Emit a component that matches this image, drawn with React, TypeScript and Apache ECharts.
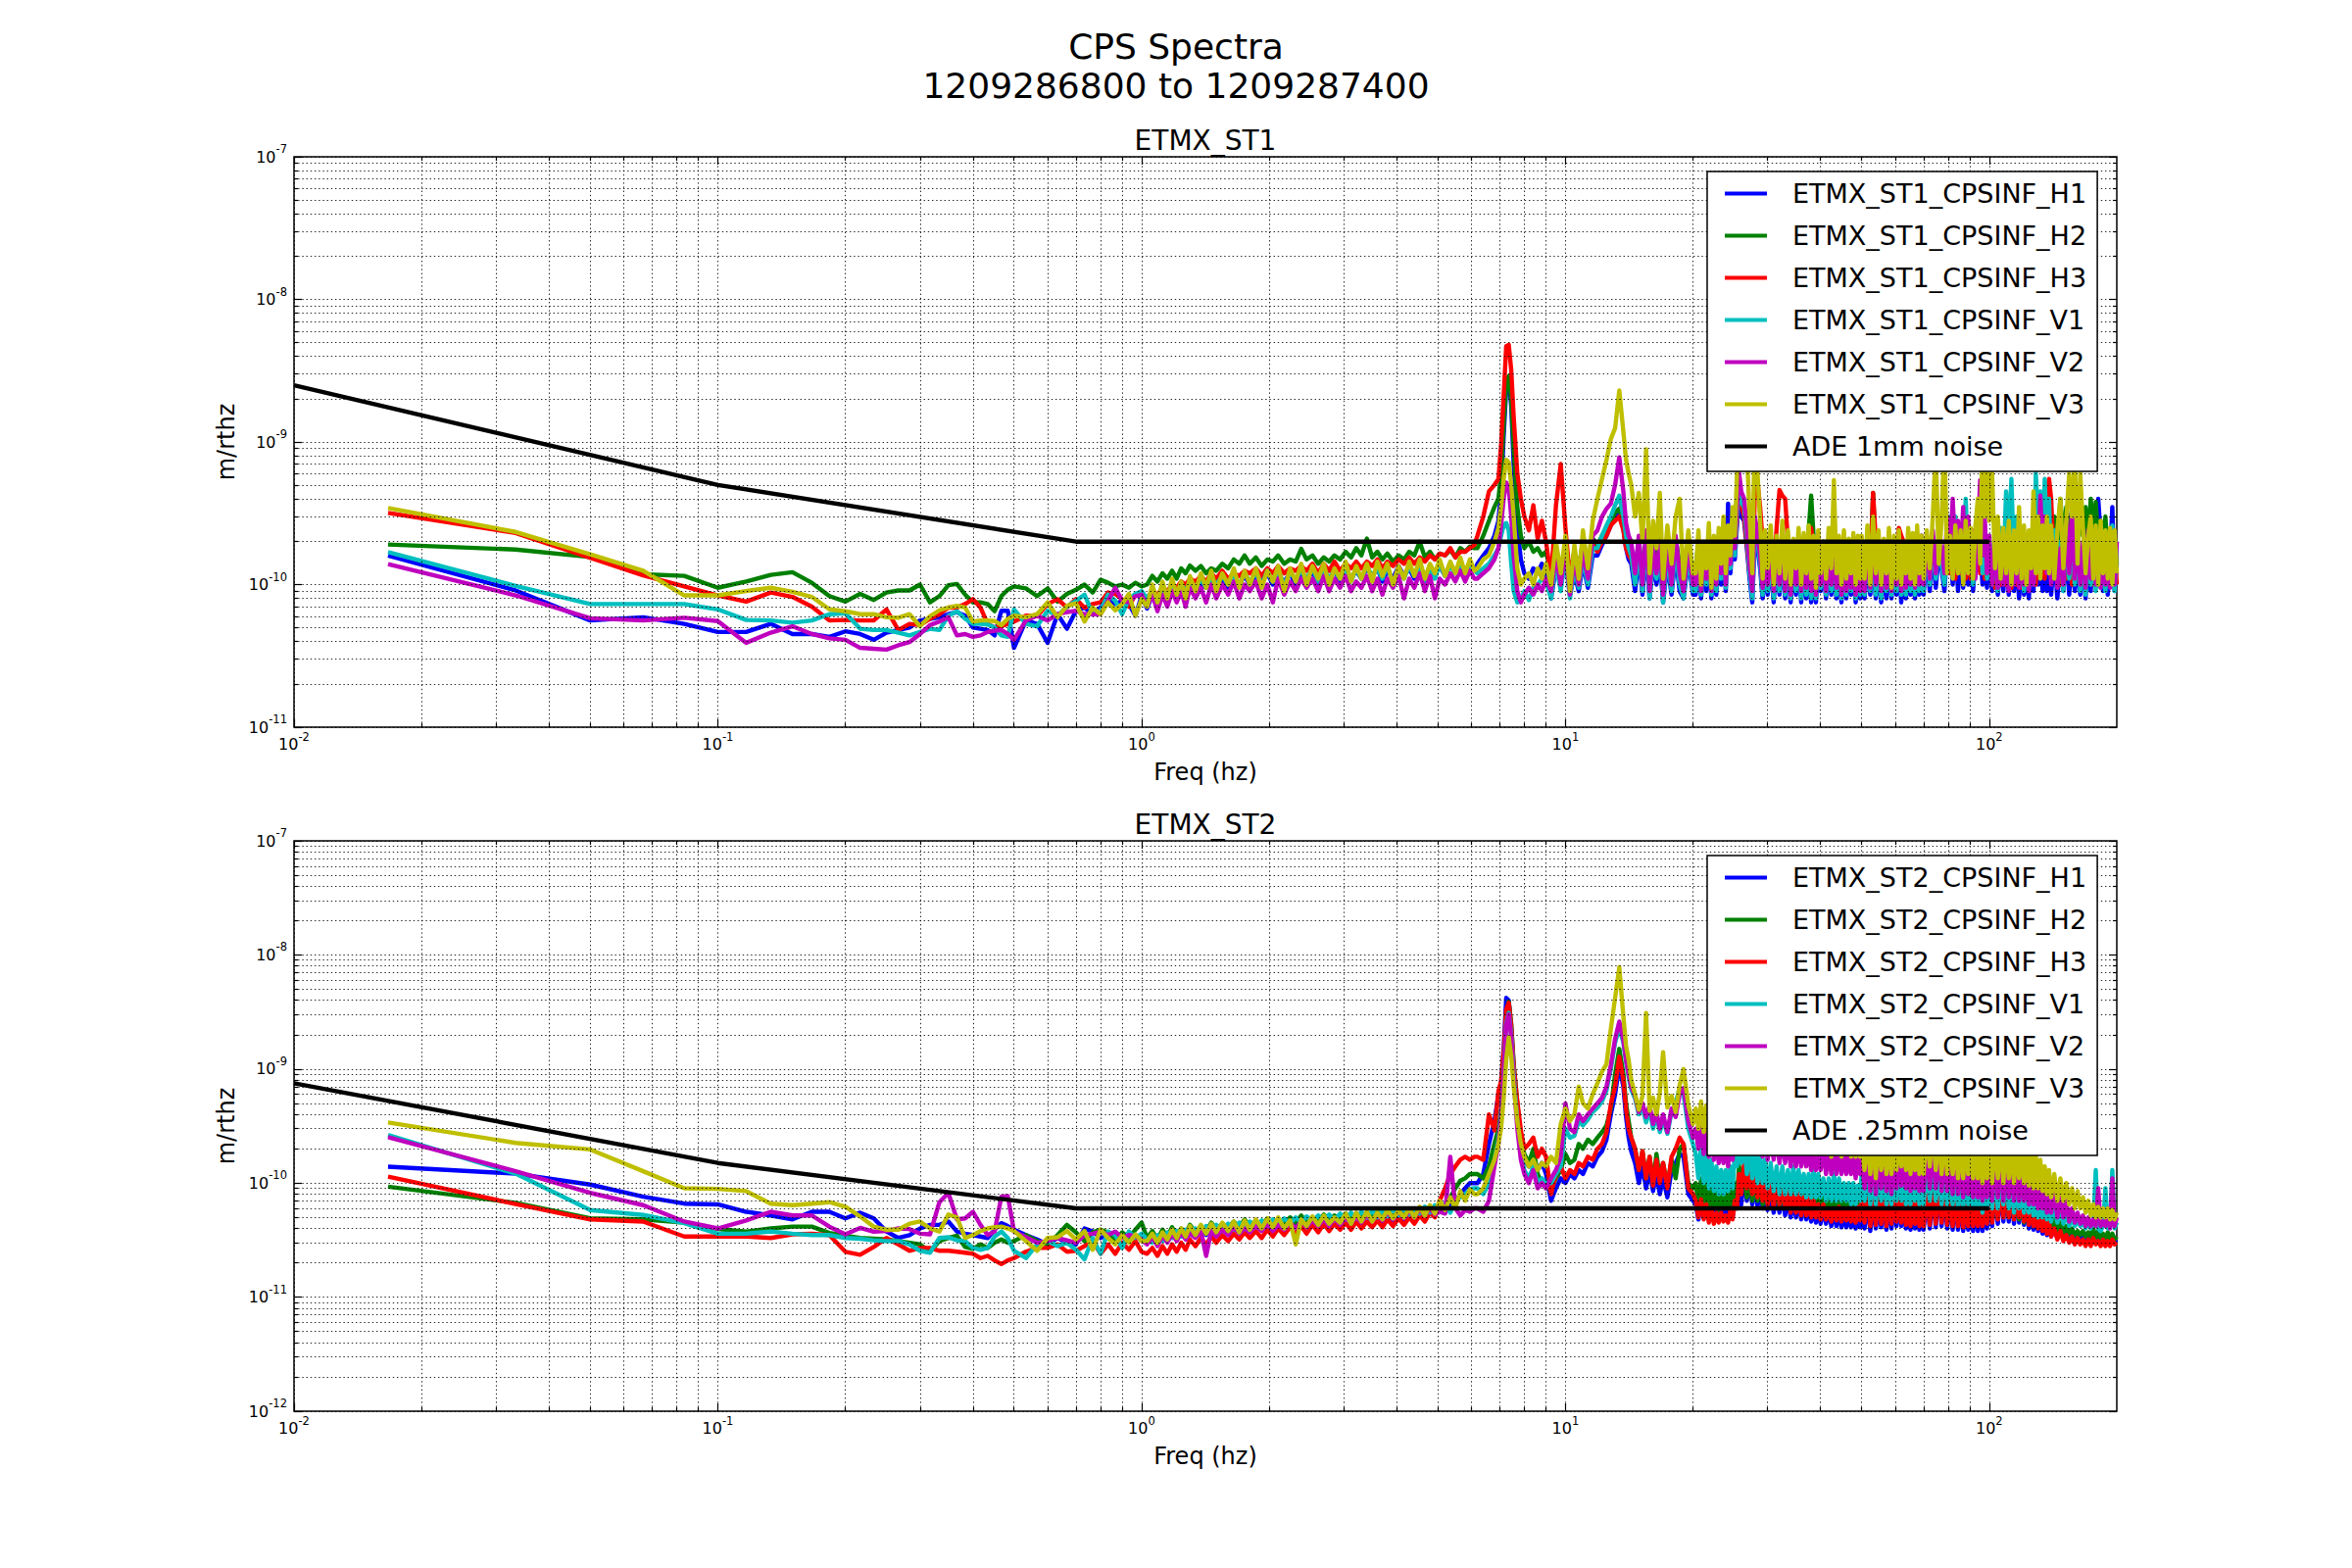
import React, { useEffect, useRef } from "react";
import * as echarts from "echarts";

// ---------------- data (amplitudes in units of 1e-11 m/rthz) ----------------
const freqHz = [
  0.01667, 0.03333, 0.05, 0.06667, 0.08333, 0.1, 0.11667, 0.13333, 0.15, 0.16667,
  0.18333, 0.2, 0.21667, 0.23333, 0.25, 0.26667, 0.28333, 0.3, 0.31667, 0.33333,
  0.35, 0.36667, 0.38333, 0.4, 0.41667, 0.43333, 0.45, 0.46667, 0.48333, 0.5,
  0.53333, 0.56667, 0.6, 0.63333, 0.66667, 0.7, 0.73333, 0.76667, 0.8, 0.83333,
  0.86667, 0.9, 0.93333, 0.96667, 1.0,
  1.03, 1.06, 1.09, 1.12, 1.15, 1.18, 1.21, 1.24, 1.27, 1.3, 1.34, 1.38, 1.42, 1.46, 1.5, 1.55, 1.6, 1.65, 1.7, 1.75,
  1.8, 1.86, 1.92, 1.98, 2.04, 2.1, 2.17, 2.24, 2.31, 2.38, 2.45, 2.53, 2.61, 2.69, 2.77, 2.85, 2.94, 3.03, 3.12, 3.21,
  3.3, 3.4, 3.5, 3.6, 3.7, 3.8, 3.92, 4.04, 4.16, 4.28, 4.4, 4.53, 4.66, 4.79, 4.92, 5.05, 5.2, 5.35, 5.5, 5.65,
  5.8, 5.95, 6.1,
  6.2, 6.4, 6.6, 6.8, 6.95, 7.05, 7.15, 7.25, 7.35, 7.45, 7.55, 7.7, 7.85, 8.0, 8.2, 8.4, 8.6, 8.8, 9.0,
  9.25, 9.5, 9.75, 10, 10.25, 10.5, 10.75, 11, 11.3, 11.6, 11.9, 12.2, 12.5, 12.8, 13.1, 13.4, 13.7, 13.9, 14.1, 14.3,
  14.6, 14.9, 15.2, 15.5, 15.8, 16.1, 16.4, 16.7, 17, 17.4, 17.8, 18.2, 18.6, 19, 19.5, 20,
  20.3, 20.6, 20.9, 21.2, 21.5, 21.8, 22.1, 22.4, 22.7, 23, 23.3, 23.6, 23.9, 24.2, 24.5, 24.8, 25.1, 25.4, 25.7, 26,
  26.4, 26.8, 27.2, 27.6, 28, 28.4, 28.8, 29.2, 29.6, 30, 30.5, 31, 31.5, 32, 32.5, 33, 33.5, 34, 34.5, 35,
  35.5, 36, 36.5, 37, 37.5, 38, 38.5, 39, 39.5, 40, 40.6, 41.2, 41.8, 42.4, 43, 43.6, 44.2, 44.8, 45.4, 46,
  46.6, 47.2, 47.8, 48.4, 49, 49.6,
  50, 50.8, 51.6, 52.4, 53.2, 54, 54.8, 55.6, 56.4, 57.2, 58, 58.8, 59.6, 60.4, 61.2, 62, 62.8, 63.6, 64.4, 65.2,
  66, 66.8, 67.6, 68.4, 69.2,
  70, 71.2, 72.4, 73.6, 74.8, 76, 77.2, 78.4, 79.6, 80.8, 82, 83.2, 84.4, 85.6, 86.8, 88, 89.2, 90.4, 91.6, 92.8,
  94, 95.2, 96.4, 97.6, 98.8,
  100, 101.6, 103.2, 104.8, 106.4, 108, 109.6, 111.2, 112.8, 114.4, 116, 117.6, 119.2, 120.8, 122.4, 124, 125.6, 127.2, 128.8, 130.4,
  132, 133.6, 135.2, 136.8, 138.4,
  140, 142.4, 144.8, 147.2, 149.6, 152, 154.4, 156.8, 159.2, 161.6, 164, 166.4, 168.8, 171.2, 173.6, 176, 178.4, 180.8, 183.2, 185.6,
  188, 190.4, 192.8, 195.2, 197.6, 200,
];

// ETMX_ST1
const st1H1 = [
  16.0, 9.1, 5.6, 5.9, 5.3, 4.65, 4.65, 5.3, 4.5, 4.5, 4.3, 4.7, 4.5, 4.1, 4.6, 4.8, 5.0, 5.6, 5.75, 5.9,
  6.2, 6.4, 6.05, 5.0, 4.9, 4.8, 4.4, 6.55, 6.55, 3.6, 5.6, 5.3, 3.9, 6.2, 4.9, 6.55, 6.9, 6.2, 6.9, 7.9,
  7.3, 7.7, 7.3, 6.05, 8.3,
  6.8, 8.5, 7, 8.8, 7.5, 9, 8, 9.5, 8.5, 9.8, 9, 10, 9.5, 10.5, 9, 11, 9.5, 11, 10, 11.5,
  10, 11.5, 10.5, 12, 10, 11.5, 10.5, 12, 10, 12.5, 10.5, 12.5, 10, 12, 11, 12.5, 10.5, 13, 11, 12.5,
  11, 13, 11.5, 13, 10.5, 12.5, 11, 13.5, 11.5, 13, 11, 13.5, 11.5, 13, 12, 13.5, 11.5, 14, 12, 13.5,
  12, 14, 12.5,
  14, 16, 18, 22, 28, 45, 110, 240, 280, 180, 70, 25, 15, 12, 11, 13, 12, 14, 12,
  8, 13, 10, 15, 8.5, 12, 9, 14, 9.5, 16, 16, 19, 22, 26, 30, 34, 25, 18, 15, 14,
  9, 16, 8.5, 17, 8, 14, 10, 15, 7.5, 14, 8.5, 16, 9, 8, 15, 8.5,
  8.5, 15, 8, 14, 9, 16, 8, 14, 8.5, 17, 10, 18, 9, 37, 12, 20, 15, 26, 45, 30,
  28, 18, 11, 7.5, 22, 18, 13, 8, 15, 8.5, 14, 7.5, 14, 8.5, 15, 8, 14, 7.5, 13, 8.5,
  15, 7.5, 14, 8, 14, 7.5, 13, 7.5, 14, 9, 13, 8, 14, 8.5, 15, 8, 13, 7.5, 14, 8,
  13, 8.5, 14, 7.5, 13, 8,
  14, 8, 15, 8.5, 14, 8, 13, 7.5, 14, 8, 15, 8, 14, 8.5, 15, 7.5, 13, 8, 14, 8.5,
  15, 8, 16, 8.5, 18,
  8.5, 16, 9, 18, 9.5, 16, 13, 9, 18, 22, 10, 20, 9, 18, 9.5, 20, 10, 18, 9, 16,
  15, 20, 10, 18, 9.5,
  18, 9, 16, 8.5, 15, 9, 18, 8.5, 16, 9, 16, 8, 15, 8.5, 14, 8, 15, 9, 20, 10,
  18, 9, 16, 9, 15,
  8.5, 16, 8, 15, 9, 17, 8.5, 16, 9, 14, 8.5, 15, 8, 16, 9, 18, 10, 40, 22, 9,
  16, 8.5, 15, 35, 9, 14,
];
const st1H2 = [
  19.1, 17.6, 15.6, 11.8, 11.5, 9.5, 10.5, 11.7, 12.2, 10.3, 8.3, 7.6, 8.6, 7.8, 8.8, 9.1, 9.1, 10, 7.5, 8.3,
  9.9, 10.1, 8.5, 7.5, 7.5, 7.3, 6.5, 8.3, 9.2, 9.7, 9.4, 8.3, 9.4, 7.6, 8.6, 9.2, 10, 8.8, 10.8, 10.3,
  9.7, 10, 9.5, 10.3, 9.7,
  10, 11.5, 10.5, 12, 11, 12.5, 11, 13, 12, 13.6, 12.5, 13.5, 12, 13, 12.5, 14, 13, 15, 14, 16,
  14, 15.5, 13.5, 15, 14.5, 16, 14, 15, 14.5, 17.8, 15, 16, 14, 15.5, 14.5, 16, 15, 17, 15.5, 18,
  16, 21, 15.5, 17, 15, 16.5, 14.5, 16, 15, 17, 16, 20, 15.5, 17, 15, 16.5, 16, 17.5, 15.5, 18,
  17, 18.5, 18,
  18, 22, 28, 35, 40, 60, 130, 260, 290, 200, 90, 35, 22, 18, 20, 17, 18, 16, 17,
  12, 18, 11, 19, 12, 17, 13, 20, 14, 21, 19, 22, 25, 28, 32, 34, 27, 20, 18, 17,
  13, 20, 12, 22, 12, 19, 14, 21, 11, 19, 13, 21, 14, 12, 19, 13,
  13, 20, 12, 19, 14, 21, 13, 20, 14, 22, 15, 23, 14, 21, 17, 24, 20, 30, 55, 38,
  32, 20, 14, 13, 28, 24, 20, 14, 21, 15, 22, 14, 21, 15, 23, 16, 22, 15, 20, 16,
  22, 15, 21, 16, 24, 42, 22, 15, 21, 16, 20, 15, 21, 16, 22, 15, 20, 14, 20, 15,
  19, 14, 20, 14, 19, 15,
  19, 13, 20, 14, 44, 16, 20, 13, 18, 12, 19, 13, 18, 12, 20, 13, 19, 14, 20, 13,
  19, 12, 20, 13, 22,
  13, 21, 14, 22, 15, 20, 18, 14, 24, 16, 22, 14, 24, 15, 22, 13, 20, 14, 22, 13,
  22, 15, 20, 13, 18,
  20, 12, 18, 12, 17, 13, 19, 12, 18, 11, 19, 12, 18, 12, 20, 13, 22, 14, 24, 15,
  22, 14, 20, 15, 26,
  16, 30, 18, 40, 20, 35, 25, 30, 18, 28, 45, 22, 35, 20, 40, 24, 38, 20, 28, 18,
  30, 16, 24, 15, 22, 14,
];
const st1H3 = [
  31.8, 23, 15.4, 11.6, 9.7, 8.4, 7.6, 8.8, 8.2, 7.0, 5.6, 5.65, 5.6, 5.6, 6.7, 4.8, 5.3, 5.2, 5.75, 6.2,
  6.9, 6.9, 7.3, 7.9, 6.9, 5.3, 5.0, 5.1, 5.3, 5.5, 6.05, 6.0, 7.3, 7.9, 6.9, 7.9, 6.9, 7.3, 7.5, 8.8,
  8.6, 7.9, 7.0, 8.5, 8.6,
  8, 9, 8.5, 9.5, 9, 10, 9.5, 10.5, 10, 11, 10.5, 11.5, 10.5, 12, 11, 12.5, 11, 12, 11.5, 12.5,
  12, 13, 11.5, 13, 12, 13.5, 12, 13, 12.5, 13.5, 12.5, 14, 12, 14, 12.5, 14.5, 12.5, 14, 13, 14.5,
  13, 14.5, 13.5, 15, 13, 14.5, 13.5, 15, 14, 15.5, 14, 15.5, 14.5, 16, 15, 16.5, 16, 18, 15.5, 17,
  17, 18, 19,
  22, 30, 45, 50, 55, 95, 210, 470, 480, 320, 150, 60, 40, 30, 24, 36, 21, 28, 20,
  11, 36, 70, 25, 11, 17, 12, 18, 12, 19, 17, 20, 22, 26, 28, 30, 24, 18, 16, 15,
  11, 18, 10, 19, 10, 17, 12, 18, 9.5, 17, 11, 19, 12, 10, 17, 11,
  11, 18, 10, 17, 12, 19, 11, 18, 12, 20, 13, 21, 12, 19, 15, 22, 18, 28, 50, 36,
  30, 19, 12, 10, 45, 52, 35, 20, 18, 12, 20, 11, 25, 46, 42, 40, 20, 12, 18, 11,
  19, 11, 18, 12, 20, 25, 17, 10, 18, 12, 17, 11, 18, 12, 19, 11, 16, 10, 17, 11,
  16, 11, 17, 10, 16, 11,
  17, 11, 18, 12, 44, 20, 16, 11, 17, 10, 16, 11, 18, 12, 25, 22, 20, 12, 16, 10,
  17, 11, 16, 10, 18,
  11, 17, 12, 20, 12, 18, 16, 11, 21, 12, 20, 11, 19, 12, 20, 11, 18, 11, 20, 12,
  20, 12, 18, 11, 16,
  12, 16, 9.5, 15, 10, 17, 10, 16, 9.5, 15, 10, 17, 9.5, 16, 10, 17, 11, 18, 10, 20,
  12, 18, 11, 40, 55,
  40, 12, 18, 10, 16, 11, 18, 10, 17, 11, 16, 10, 17, 11, 16, 10, 18, 11, 17, 10,
  18, 10, 20, 11, 18, 10,
];
const st1V1 = [
  16.9, 9.8, 7.3, 7.3, 7.3, 6.7, 5.65, 5.6, 5.4, 5.6, 6.2, 6.3, 4.9, 4.8, 4.8, 4.6, 4.4, 4.65, 4.9, 4.8,
  6.05, 6.5, 5.75, 5.3, 5.3, 5.25, 5.0, 4.4, 4.3, 6.7, 5.3, 5.1, 6.55, 6.05, 7.0, 7.7, 8.5, 6.2, 6.55, 8.5,
  7.7, 6.2, 7.9, 8.6, 9.0,
  8, 9, 7.5, 9.5, 8, 10, 8.5, 10, 9, 10.5, 9, 11, 9.5, 11, 10, 11.5, 10, 11.5, 10, 12,
  10.5, 12, 10, 12.5, 10.5, 12.5, 10, 12, 11, 12.5, 11, 13, 10.5, 13, 11, 12.5, 11, 13, 10.5, 13,
  11, 13.5, 11.5, 13, 11, 13.5, 10, 13, 11, 13.5, 11.5, 13.5, 10, 13, 11, 14, 11.5, 13.5, 12, 14,
  12, 13.5, 12.5,
  12, 13, 14, 16, 18, 22, 26, 27, 24, 14, 9, 7.5, 8, 9, 7.8, 9.5, 10, 11, 10.5,
  8, 14, 9, 16, 8, 13, 9.5, 15, 10, 18, 18, 22, 26, 30, 36, 42, 30, 22, 18, 16,
  10, 18, 9, 20, 8, 15, 11, 17, 7.5, 16, 9, 18, 10, 8, 16, 9,
  9, 16, 8.5, 15, 10, 17, 8.5, 15, 9, 18, 11, 20, 9.5, 18, 13, 22, 16, 30, 50, 38,
  35, 22, 12, 8, 25, 20, 14, 8.5, 16, 9, 15, 8, 14, 9, 16, 8.5, 15, 8, 14, 9,
  16, 8, 15, 8.5, 15, 8, 14, 8, 15, 9.5, 14, 8.5, 15, 9, 17, 8.5, 14, 8, 15, 8.5,
  14, 9, 15, 8, 14, 8.5,
  15, 8.5, 17, 9, 16, 8.5, 15, 8, 16, 9, 17, 8.5, 15, 9, 16, 8.5, 15, 8.5, 17, 9,
  16, 8.5, 18, 9, 20,
  9, 18, 10, 20, 11, 18, 14, 10, 22, 30, 14, 30, 12, 24, 11, 40, 14, 22, 10, 20,
  18, 25, 12, 22, 11,
  22, 10, 20, 9, 25, 12, 45, 20, 55, 14, 30, 10, 20, 9, 18, 9.5, 20, 10, 60, 30,
  45, 14, 55, 20, 40,
  12, 24, 10, 20, 9, 25, 11, 22, 10, 20, 9, 18, 8.5, 20, 10, 18, 9, 20, 9.5, 18,
  9, 22, 10, 26, 9, 20,
];
const st1V2 = [
  13.9, 8.4, 5.8, 5.6, 5.85, 5.55, 3.9, 4.6, 5.1, 4.5, 4.2, 4.1, 3.6, 3.55, 3.5, 3.75, 3.95, 4.5, 5.2, 5.5,
  5.9, 4.4, 4.5, 4.3, 4.4, 4.65, 4.75, 4.8, 4.5, 4.1, 5.6, 6.05, 5.6, 6.2, 6.4, 6.55, 6.2, 6.2, 6.2, 7.7,
  9.5, 7.7, 7.5, 8.3, 8.5,
  7, 8.5, 6.5, 8.5, 7, 9, 7.5, 9, 7, 9.5, 8, 9.5, 7.5, 10, 8, 10, 8.5, 10.5, 8, 10,
  9, 10.5, 8, 10, 7.5, 11, 8.5, 10.5, 9, 11, 9.5, 11, 9, 11.5, 9, 11, 9.5, 11.5, 9, 10.5,
  9.5, 11.5, 9, 11, 8.5, 11, 9.5, 11.5, 8, 11, 9.5, 12, 9, 11.5, 8, 11, 10, 12, 10.5, 12.5,
  10.5, 12.5, 11,
  11, 12, 13, 15, 18, 26, 40, 52, 48, 30, 16, 9, 7.5, 8.5, 9.5, 8.5, 10, 9, 11,
  9, 16, 10, 18, 8.5, 15, 10, 17, 11, 22, 24, 30, 34, 37, 50, 78, 45, 27, 22, 20,
  12, 22, 10, 24, 9, 18, 12, 20, 8.5, 19, 10, 22, 12, 9, 18, 10,
  10, 18, 9, 16, 11, 19, 9, 17, 10, 20, 12, 22, 10, 20, 14, 25, 18, 35, 60, 45,
  40, 25, 14, 9, 30, 22, 16, 9.5, 18, 10, 17, 9, 16, 10, 18, 9, 17, 8.5, 16, 10,
  18, 9, 16, 9.5, 17, 9, 15, 8.5, 17, 10, 16, 9, 17, 10, 20, 9.5, 15, 8.5, 16, 9,
  15, 9.5, 16, 8.5, 14, 9,
  17, 9, 19, 9.5, 20, 10, 17, 9, 16, 9.5, 18, 9, 17, 10, 19, 9, 16, 9.5, 18, 10,
  20, 9.5, 19, 10, 22,
  10, 20, 11, 24, 12, 22, 18, 12, 30, 14, 40, 16, 28, 14, 35, 12, 30, 13, 24, 11,
  22, 54, 16, 30, 12,
  22, 10, 20, 9.5, 18, 10, 22, 9, 20, 10, 22, 9.5, 18, 10, 20, 9, 18, 10, 25, 14,
  42, 18, 30, 12, 22,
  10, 20, 9.5, 18, 10, 28, 12, 35, 11, 22, 10, 20, 9.5, 24, 11, 22, 10, 20, 9.5, 22,
  10, 20, 9.5, 22, 10, 20,
];
const st1V3 = [
  34.4, 23.4, 16.3, 12.5, 8.4, 8.4, 9.0, 9.5, 8.9, 8.2, 6.7, 6.5, 6.2, 6.2, 5.9, 5.85, 6.2, 5.1, 6.0, 6.6,
  6.9, 7.1, 6.9, 5.5, 5.6, 5.6, 5.55, 5.2, 5.75, 6.05, 5.9, 6.2, 7.5, 5.9, 7.1, 7.4, 5.5, 6.9, 6.2, 7.5,
  6.6, 7.3, 8.6, 6.05, 7.9,
  7, 10, 7.5, 10.5, 8, 11, 8.5, 10.5, 8, 11.5, 9, 12, 9.5, 12.5, 9, 12, 10, 13, 9.5, 12.5,
  10, 13, 9.5, 12.5, 10.5, 13.5, 9, 13, 10.5, 14, 10, 13.5, 11, 14, 10, 13, 11, 14.5, 10.5, 13.5,
  11, 14, 10.5, 14.5, 11.5, 14, 10, 13.5, 11, 14.5, 11.5, 15, 11, 14, 12, 15, 11.5, 14.5, 12, 15.5,
  12, 15, 12.5,
  13, 15, 16, 20, 25, 35, 55, 75, 72, 50, 30, 13, 10, 11, 12, 10, 13, 11, 14,
  10, 20, 12, 22, 9, 19, 11, 24, 13, 28, 40, 55, 75, 105, 125, 230, 118, 75, 60, 50,
  30, 44, 20, 89, 12, 28, 18, 44, 11, 26, 14, 30, 40, 11, 24, 12,
  12, 24, 10, 20, 13, 27, 9.5, 22, 11, 25, 14, 30, 12, 26, 16, 35, 22, 60, 120, 200,
  150, 90, 30, 12, 150, 60, 28, 11, 24, 13, 26, 10, 22, 12, 28, 11, 24, 10, 21, 13,
  25, 10, 23, 12, 26, 11, 22, 9.5, 24, 12, 20, 11, 25, 13, 54, 12, 22, 10, 24, 11,
  21, 12, 23, 10, 22, 11,
  22, 11, 26, 10, 30, 12, 24, 10, 21, 12, 25, 9.5, 22, 11, 24, 10, 20, 12, 25, 11,
  23, 10, 26, 12, 22,
  11, 24, 13, 30, 90, 14, 28, 110, 12, 22, 11, 26, 12, 24, 10, 28, 12, 25, 11, 26,
  40, 14, 120, 30, 100,
  28, 60, 13, 30, 11, 25, 12, 28, 10, 24, 12, 35, 11, 26, 10, 24, 13, 45, 12, 30,
  11, 26, 13, 30, 12,
  26, 11, 24, 40, 13, 28, 60, 30, 80, 14, 60, 25, 12, 22, 30, 11, 26, 10, 28, 12,
  24, 11, 25, 10, 24, 12,
];

// ETMX_ST2
const st2H1 = [
  13.9, 12.1, 9.7, 7.6, 6.6, 6.5, 5.6, 5.2, 4.8, 5.6, 5.6, 4.9, 5.5, 4.9, 3.76, 3.3, 3.5, 4.0, 4.3, 4.3,
  4.6, 3.76, 3.6, 3.5, 3.4, 3.3, 3.9, 4.45, 4.2, 3.9, 3.5, 3.2, 2.9, 3.3, 3.0, 2.9, 4.0, 3.76, 3.3, 3.5,
  3.1, 3.6, 3.2, 3.5, 3.1,
  3.0, 3.4, 2.9, 3.5, 3.1, 3.6, 3.2, 3.7, 3.3, 3.8, 3.4, 3.9, 3.5, 4.0, 3.6, 4.1, 3.7, 4.2, 3.8, 4.3,
  3.9, 4.4, 4.0, 4.5, 3.9, 4.4, 4.1, 4.6, 4.2, 4.7, 4.3, 4.8, 4.3, 4.9, 4.4, 5.0, 4.4, 5.0, 4.5, 5.1,
  4.5, 5.2, 4.6, 5.3, 4.6, 5.2, 4.7, 5.4, 4.8, 5.5, 4.8, 5.6, 5.0, 5.8, 5.2, 6.0, 5.5, 6.5, 7, 8,
  9, 10, 10,
  10, 12, 22, 35, 60, 75, 150, 420, 400, 220, 100, 45, 25, 16, 14, 17, 13, 15, 12,
  7, 9, 11, 10, 12, 11, 13, 12, 15, 14, 17, 19, 24, 40, 60, 108, 70, 38, 25, 19,
  15, 10, 14, 9, 13, 8.5, 12, 8, 11, 7.5, 13, 15, 18, 17, 8, 7,
  6.5, 4.8, 6.8, 5, 6.5, 4.8, 6.2, 4.6, 6, 4.8, 6.2, 4.8, 6, 4.7, 6.5, 5, 7.5, 6, 10, 6.5,
  12, 7, 11, 6.5, 10, 6.2, 9.5, 6, 10, 5.8, 8.5, 5.5, 9, 5.5, 8, 5.2, 7.5, 5, 7, 5,
  7, 4.8, 6.8, 4.8, 6.5, 4.6, 6.5, 4.5, 6, 4.4, 6, 4.4, 5.8, 4.2, 5.8, 4.2, 5.5, 4.1, 5.5, 4.1,
  5.4, 4.1, 5.2, 4, 5.2, 4.1,
  6.5, 4, 7, 3.8, 6.5, 4, 6, 4.1, 7, 3.9, 7.5, 4, 8, 4.2, 9, 4.2, 8, 4, 7.5, 3.9,
  8, 4, 7.5, 3.9, 7,
  3.9, 7.5, 4, 8.5, 4.1, 9, 4.2, 8, 4, 7.5, 3.9, 7.5, 3.9, 7, 3.8, 7, 3.9, 7.5, 3.8, 6.5,
  3.8, 7, 3.8, 7.5, 4,
  8, 4.2, 9, 4.4, 10, 4.6, 10, 4.6, 9, 4.4, 10, 4.5, 9, 4.3, 8, 4, 7, 3.9, 6.5, 3.8,
  5.5, 3.6, 4.8, 3.5, 4.2,
  3.4, 4, 3.3, 3.8, 3.2, 3.6, 3.2, 3.5, 3.1, 3.4, 3.1, 3.4, 3, 3.3, 3, 3.5, 3.1, 3.4, 3, 3.3,
  3, 3.4, 3, 3.3, 3.1, 3.2,
];
const st2H2 = [
  9.3, 6.7, 4.9, 4.8, 4.5, 3.95, 3.75, 4.0, 4.15, 4.15, 3.65, 3.45, 3.3, 3.25, 3.2, 3.1, 3.0, 2.9, 2.5, 3.1,
  3.3, 3.45, 2.75, 2.65, 2.9, 2.7, 3.0, 3.2, 3.0, 3.1, 3.5, 3.1, 2.9, 3.5, 4.3, 3.7, 3.1, 3.7, 3.9, 3.7,
  3.1, 3.7, 3.3, 3.9, 4.5,
  3.3, 3.8, 3.2, 3.9, 3.4, 4.1, 3.5, 4.0, 3.6, 4.3, 3.7, 4.2, 3.8, 4.5, 3.9, 4.4, 4.0, 4.6, 4.1, 4.8,
  4.2, 4.6, 4.3, 4.9, 4.2, 4.8, 4.4, 5.0, 4.5, 5.2, 4.5, 5.0, 4.6, 5.3, 4.7, 5.2, 4.8, 5.4, 4.8, 5.3,
  4.9, 5.5, 5.0, 5.6, 5.0, 5.4, 5.1, 5.8, 5.2, 5.7, 5.2, 6.0, 5.4, 6.2, 5.6, 6.5, 6.0, 7.5, 9, 10.5,
  11, 12, 12,
  12, 11, 14, 22, 30, 45, 100, 300, 390, 250, 110, 50, 25, 18, 15, 20, 12, 10, 9,
  9, 11, 13, 18, 15, 16, 22, 20, 24, 22, 25, 28, 32, 45, 90, 150, 90, 50, 35, 25,
  20, 13, 19, 11, 17, 10, 18, 11, 15, 9.5, 16, 11, 20, 22, 10, 9,
  10, 6.5, 11, 6, 10, 6, 9, 6, 8.5, 5.8, 9, 6, 8.5, 6, 9, 6.5, 10, 8, 14, 9,
  12, 7.5, 12, 7, 11, 7, 10, 6.5, 10, 6.5, 9.5, 6.5, 9, 6, 9, 6, 8.5, 6, 9, 6,
  8.5, 6, 9, 6, 8.5, 6, 8, 5.8, 8.5, 5.5, 8, 5.5, 7.5, 5.5, 8, 5.5, 7.5, 5.2, 7, 5.5,
  7.5, 5.2, 7, 5.5, 7, 5.2,
  8.5, 5.5, 9, 5, 8, 4.8, 9, 5.2, 8.5, 5, 9, 5, 10, 5.5, 11, 5.5, 10, 5, 9, 5,
  10, 5.2, 9, 5, 9.5,
  5, 10, 5.5, 11, 5.5, 10, 5, 9, 5, 9, 5, 9.5, 4.8, 9, 4.8, 8.5, 5, 8.5, 4.8, 8,
  4.8, 8, 4.5, 8.5, 4.8,
  9, 4.8, 10, 5, 10, 5.5, 11, 5, 10, 5, 9, 4.8, 8, 4.5, 8, 4.5, 7, 4.2, 7, 4.2,
  6, 4, 5.5, 4, 5,
  3.8, 4.8, 3.8, 4.5, 3.6, 4.2, 3.6, 4, 3.5, 3.8, 3.5, 3.8, 3.4, 3.7, 3.4, 4, 3.3, 3.8, 3.3, 3.6,
  3.2, 3.7, 3.2, 3.6, 3.2, 3.4,
];
const st2H3 = [
  11.4, 6.55, 4.8, 4.6, 3.4, 3.4, 3.4, 3.3, 3.55, 3.6, 3.5, 2.5, 2.35, 2.75, 3.3, 2.9, 2.55, 2.7, 2.7, 2.55,
  2.55, 2.5, 2.45, 2.4, 2.2, 2.3, 2.1, 1.95, 2.1, 2.2, 2.5, 2.7, 2.7, 2.9, 2.5, 2.55, 2.8, 3.1, 2.4, 2.9,
  2.4, 3.0, 2.6, 3.1, 2.5,
  2.4, 2.7, 2.3, 2.8, 2.4, 2.9, 2.5, 3.0, 2.6, 3.2, 2.8, 3.3, 2.9, 3.4, 3.0, 3.5, 3.1, 3.6, 3.2, 3.7,
  3.3, 3.8, 3.3, 3.9, 3.4, 4.0, 3.5, 4.1, 3.6, 4.2, 3.6, 4.3, 3.7, 4.4, 3.8, 4.4, 3.9, 4.5, 3.9, 4.6,
  4.0, 4.6, 4.1, 4.7, 4.1, 4.8, 4.2, 4.9, 4.3, 5.0, 4.4, 5.2, 4.6, 5.5, 5.0, 7, 9, 12, 14, 16,
  17, 16, 17,
  17, 16, 40, 29, 64, 78, 140, 333, 380, 240, 108, 52, 29, 20, 22, 25, 17, 20, 17,
  8, 12, 14, 11, 13, 12, 15, 14, 17, 16, 20, 22, 28, 49, 70, 128, 80, 45, 30, 25,
  20, 13, 19, 11, 17, 9.5, 16, 10, 15, 9, 17, 20, 25, 22, 9, 8,
  7, 5, 7.2, 4.8, 6.5, 4.5, 6, 4.4, 5.5, 4.5, 5.5, 4.6, 5.2, 4.5, 5.8, 4.8, 7, 6, 12, 8,
  15, 9, 13, 8, 11, 7.5, 12, 7, 11, 6.5, 10, 6, 12, 6.5, 10, 6, 9, 5.5, 8, 5.5,
  8, 5.2, 7.5, 5.2, 7.5, 5, 7, 5, 6.5, 4.8, 6.5, 4.8, 6, 4.6, 6, 4.7, 6.2, 4.6, 6, 4.7,
  6, 4.6, 6, 4.5, 6.2, 4.7,
  7, 4.5, 8, 4.2, 7.5, 4.3, 8.5, 4.4, 8, 4.2, 8.5, 4.4, 10, 4.6, 9.5, 4.5, 9, 4.3, 8, 4.2,
  9, 4.4, 8, 4.2, 7.5,
  4.2, 8, 4.3, 9, 4.4, 10, 4.5, 9, 4.3, 8, 4.2, 8.5, 4.2, 8, 4.1, 7.5, 4.2, 8, 4.2, 7,
  4.2, 7.5, 4.2, 8, 4.4,
  9, 4.5, 10, 4.8, 11, 5, 12, 5, 11, 4.8, 12, 5, 10, 4.6, 9, 4.3, 8, 4.2, 7, 4,
  6, 3.8, 5, 3.6, 4.5,
  3.4, 4, 3.2, 3.8, 3.1, 3.5, 3, 3.4, 2.9, 3.3, 2.9, 3.2, 2.8, 3.2, 2.8, 3.3, 2.9, 3.1, 2.8, 3.2,
  2.8, 3.1, 2.8, 3.2, 2.9, 3,
];
const st2V1 = [
  26.4, 12.1, 5.8, 5.25, 4.45, 3.6, 3.6, 3.76, 3.6, 3.5, 3.5, 3.3, 3.25, 3.15, 3.1, 3.1, 2.9, 2.55, 2.45, 3.3,
  3.35, 3.15, 3.1, 2.7, 2.6, 2.7, 3.4, 3.76, 3.3, 2.55, 2.2, 2.9, 3.1, 2.8, 3.0, 2.6, 2.15, 3.3, 2.4, 3.76,
  3.5, 2.7, 3.76, 3.3, 3.6,
  3.2, 3.0, 3.5, 3.1, 3.7, 3.3, 3.8, 3.4, 3.9, 3.5, 4.0, 3.6, 4.2, 3.7, 4.3, 3.8, 4.4, 3.9, 4.5, 4.0,
  4.6, 4.1, 4.7, 4.2, 4.8, 4.3, 4.9, 4.4, 5.0, 4.5, 5.1, 4.6, 5.2, 4.7, 5.3, 4.7, 5.4, 4.8, 5.5, 4.9,
  5.6, 5.0, 5.7, 5.0, 5.8, 5.1, 5.9, 5.2, 6.0, 5.3, 6.0, 5.4, 6.2, 5.5, 6.4, 5.6, 6.6, 5.5, 7.0, 7.5,
  8, 8.9, 9,
  9, 8, 10, 16, 24, 40, 90, 250, 310, 200, 90, 35, 18, 13, 11, 14, 10, 11, 10,
  10, 12, 14, 30, 25, 26, 35, 32, 36, 42, 46, 52, 65, 100, 170, 230, 170, 115, 85, 66,
  55, 40, 46, 34, 44, 30, 40, 28, 36, 27, 42, 50, 68, 60, 30, 22,
  18, 11, 22, 10, 20, 9, 16, 8.5, 14, 8, 13, 8, 13, 8.5, 14, 9, 18, 14, 28, 15,
  22, 12, 20, 11, 19, 10, 18, 10, 16, 9, 15, 8.5, 14, 8, 14, 8, 13, 8, 14, 8,
  13, 8, 12, 7.5, 12, 7.5, 13, 7.5, 12, 7.5, 11, 7, 11, 7, 12, 7, 11, 7, 10, 7,
  10, 6.5, 10, 6.5, 9.5, 7,
  12, 7, 13, 6.5, 12, 6.5, 14, 7, 13, 6.5, 12, 6.5, 14, 7, 15, 7, 13, 6.5, 12, 6.5,
  14, 7, 13, 6.5, 12,
  6.5, 14, 7, 15, 7, 13, 6.5, 12, 6.5, 12, 6.5, 13, 6, 12, 6, 12, 6.5, 11, 6, 11,
  6, 10, 5.5, 11, 6,
  11, 6, 12, 6, 13, 6.5, 12, 6, 11, 5.5, 11, 6, 10, 5.5, 10, 5.5, 9, 5.2, 8.5, 5,
  8, 5, 7, 4.8, 6.5,
  4.6, 6.5, 4.5, 6, 4.4, 5.5, 4.2, 5, 4.2, 4.8, 4.2, 4.6, 4, 4.4, 4, 4.4, 13, 4, 3.8, 4.2,
  9, 4, 4.2, 13, 4, 4.5,
];
const st2V2 = [
  25.3, 12.7, 8.2, 6.4, 4.6, 4.0, 4.7, 5.6, 5.2, 5.2, 4.15, 3.55, 4.05, 3.75, 3.8, 4.0, 3.95, 3.6, 3.55, 6.8,
  8.2, 4.8, 4.9, 5.6, 4.3, 3.5, 3.76, 7.6, 7.7, 3.76, 3.35, 3.0, 3.1, 3.3, 3.15, 3.0, 3.5, 3.6, 3.76, 3.5,
  3.76, 3.3, 3.5, 3.4, 3.2,
  2.9, 3.4, 2.8, 3.5, 3.0, 3.6, 3.1, 3.7, 3.2, 3.6, 3.3, 3.8, 2.3, 3.8, 3.4, 3.9, 3.5, 4.1, 3.6, 4.0,
  3.7, 4.2, 3.8, 4.4, 3.8, 4.3, 3.9, 4.5, 4.0, 4.6, 4.1, 4.7, 4.2, 4.8, 4.2, 4.9, 4.3, 5.0, 4.4, 5.1,
  4.5, 5.3, 4.6, 5.4, 4.7, 5.6, 4.8, 5.7, 4.9, 5.8, 5.0, 5.9, 5.2, 6.0, 5.3, 5.6, 5.4, 17, 6.0, 5.2,
  5.8, 5.6, 6,
  6, 5.6, 7, 14, 22, 38, 85, 240, 300, 190, 80, 30, 16, 12, 10, 13, 9, 10, 9,
  11, 13, 17, 50, 30, 28, 40, 35, 40, 45, 50, 56, 70, 108, 184, 260, 180, 120, 90, 70,
  58, 42, 50, 38, 48, 33, 42, 30, 40, 28, 45, 38, 60, 68, 35, 25,
  30, 20, 34, 18, 32, 17, 28, 16, 26, 15, 25, 15, 24, 14, 26, 16, 30, 22, 40, 24,
  34, 20, 32, 19, 30, 18, 28, 17, 27, 16, 26, 16, 25, 15, 24, 15, 24, 14, 22, 14,
  22, 14, 21, 14, 22, 13, 21, 13, 20, 13, 20, 12, 19, 12, 20, 12, 19, 12, 18, 12,
  18, 12, 17, 11, 18, 12,
  17, 9, 19, 8.5, 18, 8, 20, 9, 19, 8.5, 18, 8, 20, 9, 22, 9.5, 20, 9, 19, 8.5,
  21, 9, 20, 8.5, 19,
  8.5, 21, 9, 22, 9, 20, 8.5, 19, 8.5, 18, 8, 19, 8, 18, 7.5, 18, 8, 17, 7.5, 17,
  7.5, 16, 7, 17, 7.5,
  16, 7, 17, 7.5, 18, 7, 17, 7.5, 16, 7, 17, 7, 15, 7, 14, 6.5, 13, 6.5, 12, 6,
  11, 6, 10, 5.5, 9,
  5.5, 8.5, 5, 7.5, 5, 7, 4.6, 6, 4.5, 5.5, 4.4, 5.2, 4.2, 5, 4.2, 4.8, 4.2, 9, 4.2, 4.6,
  4.2, 6, 4, 11, 4.2, 5,
];
const st2V3 = [
  34, 22.5, 19.7, 12.7, 9.0, 8.9, 8.5, 6.6, 6.4, 6.6, 6.8, 6.2, 5.1, 4.15, 3.9, 3.9, 4.4, 4.6, 4.0, 3.76,
  5.3, 5.0, 3.3, 3.5, 3.8, 4.0, 4.1, 4.15, 4.0, 3.8, 3.1, 2.55, 3.3, 3.35, 3.8, 3.2, 3.8, 2.6, 3.9, 3.3,
  2.9, 3.5, 3.0, 3.55, 3.1,
  3.1, 3.6, 3.0, 3.7, 3.2, 3.9, 3.3, 4.0, 3.4, 4.2, 3.5, 4.3, 3.6, 4.4, 3.7, 4.5, 3.8, 4.6, 3.7, 4.7,
  3.9, 4.8, 4.0, 4.9, 4.1, 5.0, 4.0, 4.7, 2.9, 4.8, 4.2, 5.1, 4.3, 5.2, 4.4, 5.0, 4.5, 5.4, 4.4, 5.5,
  4.6, 5.6, 4.6, 5.5, 4.8, 5.8, 4.9, 5.7, 5.0, 6.0, 5.0, 6.2, 5.2, 6.4, 5.4, 7.0, 5.8, 7.5, 6.0, 8.5,
  7.0, 8.8, 8,
  8, 9, 12, 16, 22, 30, 55, 120, 190, 130, 70, 35, 22, 17, 14, 16, 13, 15, 14,
  17, 15, 33, 45, 35, 40, 70, 50, 45, 60, 75, 95, 110, 225, 420, 780, 290, 160, 120, 80,
  60, 44, 58, 310, 43, 56, 40, 62, 140, 46, 58, 42, 72, 100, 48, 33,
  45, 30, 52, 28, 48, 26, 40, 24, 38, 22, 36, 22, 34, 20, 38, 24, 40, 30, 55, 32,
  48, 28, 45, 26, 44, 25, 40, 24, 38, 22, 36, 21, 34, 20, 32, 21, 34, 20, 30, 19,
  32, 20, 30, 19, 28, 20, 30, 18, 29, 19, 28, 18, 27, 17, 26, 18, 28, 17, 25, 18,
  26, 17, 25, 17, 24, 17,
  22, 13, 26, 12, 24, 11, 28, 13, 26, 12, 25, 12, 27, 13, 30, 14, 28, 13, 26, 12,
  28, 13, 26, 12, 25,
  12, 28, 14, 30, 13, 27, 12, 26, 12, 25, 12, 26, 11, 24, 11, 25, 12, 24, 11, 23,
  11, 22, 10, 24, 11,
  22, 10, 24, 11, 26, 10, 25, 11, 22, 10, 24, 11, 22, 10, 20, 9.5, 20, 9, 18, 9,
  16, 8.5, 14, 8, 13,
  7.5, 12, 7, 11, 7, 10, 6.5, 9, 6, 8.5, 6, 7.5, 5.5, 7, 5.2, 6.5, 5, 6.2, 5, 6,
  5, 6, 4.8, 5.8, 4.8, 5.5,
];

// ADE noise reference curves
const adeFreq = [0.01, 0.1, 0.7, 100];
const ade1mm = [2.5e-9, 5e-10, 2e-10, 2e-10];
const ade025mm = [7.5e-10, 1.5e-10, 6e-11, 6e-11];

// names
const st1Names = [
  "ETMX_ST1_CPSINF_H1", "ETMX_ST1_CPSINF_H2", "ETMX_ST1_CPSINF_H3",
  "ETMX_ST1_CPSINF_V1", "ETMX_ST1_CPSINF_V2", "ETMX_ST1_CPSINF_V3",
];
const st2Names = [
  "ETMX_ST2_CPSINF_H1", "ETMX_ST2_CPSINF_H2", "ETMX_ST2_CPSINF_H3",
  "ETMX_ST2_CPSINF_V1", "ETMX_ST2_CPSINF_V2", "ETMX_ST2_CPSINF_V3",
];
const adeNames = ["ADE 1mm noise", "ADE .25mm noise"];
const panelTitles = ["ETMX_ST1", "ETMX_ST2"];

// tick decades
const xMajor = [0.01, 0.1, 1, 10, 100];
const yMajorTop = [1e-11, 1e-10, 1e-9, 1e-8, 1e-7];
const yMajorBottom = [1e-12, 1e-11, 1e-10, 1e-9, 1e-8, 1e-7];

// ---------------- styling ----------------
const UNIT = 1e-11;
const FONT = "DejaVu Sans";
const COLORS = ["#0000ff", "#008000", "#ff0000", "#00bfbf", "#bf00bf", "#bfbf00"];
const LINE_W = 4.4;
const GRID_LEFT = 300;
const GRID_W = 1860;
const GRID_H = 582;
const GRID_TOPS = [160, 858];
const LEGEND_TOPS = [175, 873];
const SUBTITLE_TOPS = [129.5, 827];

const minorsOf = (majors: number[], upto: number) => {
  const out: number[] = [];
  majors.forEach((d) => {
    for (let m = 2; m <= 9; m++) {
      const v = m * d;
      if (v < upto * 0.999) out.push(v);
    }
  });
  return out;
};

const isDecade = (v: number) => {
  const l = Math.log10(v);
  return Math.abs(l - Math.round(l)) < 1e-6;
};
const supLabel = (v: number) => {
  if (!isDecade(v)) return "";
  return `{b|10}{s|${Math.round(Math.log10(v))}}`;
};
const rich = {
  b: { fontSize: 16, lineHeight: 24, fontFamily: FONT, color: "#000" },
  s: { fontSize: 11.5, lineHeight: 8, padding: [0, 0, 16, 0], fontFamily: FONT, color: "#000" },
};

const tickStyle = { color: "#000", width: 1.2 };

function xAxesFor(g: number) {
  const minors = minorsOf(xMajor, 200);
  const common = {
    type: "log",
    logBase: 10,
    min: 0.01,
    max: 200,
    gridIndex: g,
    axisLine: { show: false, onZero: false },
    splitLine: { show: false },
    axisPointer: { show: false },
  };
  return [
    {
      ...common,
      position: "bottom",
      axisTick: { show: true, inside: true, length: 8, lineStyle: tickStyle, customValues: xMajor },
      axisLabel: { show: true, customValues: xMajor, formatter: supLabel, rich, margin: 5.5 },
      name: "Freq (hz)",
      nameLocation: "middle",
      nameGap: 34,
      nameTextStyle: { fontSize: 24, lineHeight: 24, fontFamily: FONT, color: "#000" },
    },
    {
      ...common,
      position: "top",
      axisTick: { show: true, inside: true, length: 8, lineStyle: tickStyle, customValues: xMajor },
      axisLabel: { show: false },
    },
    {
      ...common,
      position: "bottom",
      axisTick: { show: true, inside: true, length: 4, lineStyle: tickStyle, customValues: minors },
      axisLabel: { show: false },
    },
    {
      ...common,
      position: "top",
      axisTick: { show: true, inside: true, length: 4, lineStyle: tickStyle, customValues: minors },
      axisLabel: { show: false },
    },
  ];
}

function yAxesFor(g: number) {
  const majors = g === 0 ? yMajorTop : yMajorBottom;
  const minors = minorsOf(majors, 1e-7);
  const common = {
    type: "log",
    logBase: 10,
    min: majors[0],
    max: 1e-7,
    gridIndex: g,
    axisLine: { show: false, onZero: false },
    splitLine: { show: false },
    axisPointer: { show: false },
  };
  return [
    {
      ...common,
      position: "left",
      axisTick: { show: true, inside: true, length: 8, lineStyle: tickStyle, customValues: majors },
      axisLabel: { show: true, customValues: majors, formatter: supLabel, rich, margin: 7 },
      name: "m/rthz",
      nameLocation: "middle",
      nameGap: 54,
      nameTextStyle: { fontSize: 24, lineHeight: 24, fontFamily: FONT, color: "#000" },
    },
    {
      ...common,
      position: "right",
      axisTick: { show: true, inside: true, length: 8, lineStyle: tickStyle, customValues: majors },
      axisLabel: { show: false },
    },
    {
      ...common,
      position: "left",
      axisTick: { show: true, inside: true, length: 4, lineStyle: tickStyle, customValues: minors },
      axisLabel: { show: false },
    },
    {
      ...common,
      position: "right",
      axisTick: { show: true, inside: true, length: 4, lineStyle: tickStyle, customValues: minors },
      axisLabel: { show: false },
    },
  ];
}

function seriesFor(g: number) {
  const arrays = g === 0
    ? [st1H1, st1H2, st1H3, st1V1, st1V2, st1V3]
    : [st2H1, st2H2, st2H3, st2V1, st2V2, st2V3];
  const names = g === 0 ? st1Names : st2Names;
  const ade = g === 0 ? ade1mm : ade025mm;
  const yMajors = g === 0 ? yMajorTop : yMajorBottom;
  const gridX = [...xMajor, ...minorsOf(xMajor, 200)];
  const gridY = [...yMajors, ...minorsOf(yMajors, 1e-7)];
  const base = g * 4;
  const lines = arrays.map((arr, i) => ({
    type: "line",
    name: names[i],
    xAxisIndex: base,
    yAxisIndex: base,
    data: freqHz.map((f, j) => [f, arr[j] * UNIT]),
    showSymbol: false,
    symbol: "none",
    silent: true,
    lineStyle: { width: LINE_W, color: COLORS[i], cap: "butt", join: "round" },
    itemStyle: { color: COLORS[i] },
    emphasis: { disabled: true },
    z: 2,
  }));
  const adeSeries = {
    type: "line",
    name: adeNames[g],
    xAxisIndex: base,
    yAxisIndex: base,
    data: adeFreq.map((f, j) => [f, ade[j]]),
    showSymbol: false,
    symbol: "none",
    silent: true,
    lineStyle: { width: LINE_W, color: "#000", cap: "butt", join: "round" },
    itemStyle: { color: "#000" },
    emphasis: { disabled: true },
    z: 3,
    markLine: {
      silent: true,
      precision: 20,
      symbol: ["none", "none"],
      label: { show: false },
      emphasis: { disabled: true },
      lineStyle: { color: "#000", width: 1, type: [1.4, 2.8], opacity: 0.85 },
      data: [
        ...gridX.map((v) => ({ xAxis: v })),
        ...gridY.map((v) => ({ yAxis: v })),
      ],
      animation: false,
    },
  };
  return [...lines, adeSeries];
}

function buildOption() {
  return {
    animation: false,
    backgroundColor: "#ffffff",
    textStyle: { fontFamily: FONT },
    title: [
      {
        text: "CPS Spectra\n1209286800 to 1209287400",
        left: 1200,
        top: 27,
        textAlign: "center",
        padding: 0,
        textStyle: { fontSize: 36, fontWeight: "normal", fontFamily: FONT, color: "#000", lineHeight: 40 },
      },
      ...[0, 1].map((g) => ({
        text: panelTitles[g],
        left: GRID_LEFT + GRID_W / 2,
        top: SUBTITLE_TOPS[g],
        textAlign: "center",
        padding: 0,
        textStyle: { fontSize: 28, fontWeight: "normal", fontFamily: FONT, color: "#000", lineHeight: 28 },
      })),
    ],
    grid: [0, 1].map((g) => ({
      left: GRID_LEFT,
      top: GRID_TOPS[g],
      width: GRID_W,
      height: GRID_H,
      show: true,
      borderColor: "#000",
      borderWidth: 1.5,
      backgroundColor: "transparent",
      containLabel: false,
      outerBoundsMode: "none",
    })),
    xAxis: [...xAxesFor(0), ...xAxesFor(1)],
    yAxis: [...yAxesFor(0), ...yAxesFor(1)],
    legend: [0, 1].map((g) => ({
      orient: "vertical",
      left: 1742,
      top: LEGEND_TOPS[g],
      data: [...(g === 0 ? st1Names : st2Names), adeNames[g]],
      icon: "rect",
      itemWidth: 43,
      itemHeight: 4,
      itemGap: 16,
      padding: [9, 11, 12, 18],
      backgroundColor: "#ffffff",
      borderColor: "#000",
      borderWidth: 1.5,
      borderRadius: 0,
      selectedMode: false,
      itemStyle: { borderWidth: 0 },
      textStyle: { fontSize: 27, lineHeight: 27, fontFamily: FONT, color: "#000", padding: [0, 0, 0, 21] },
      z: 20,
    })),
    series: [...seriesFor(0), ...seriesFor(1)],
  };
}

export default function App() {
  const ref = useRef<HTMLDivElement>(null);
  useEffect(() => {
    if (!ref.current) return;
    const chart = echarts.init(ref.current, null, { renderer: "svg" });
    chart.setOption(buildOption() as any);
    return () => chart.dispose();
  }, []);
  return (
    <div
      ref={ref}
      style={{ position: "absolute", left: 0, top: 0, width: 2400, height: 1600, background: "#fff" }}
    />
  );
}
